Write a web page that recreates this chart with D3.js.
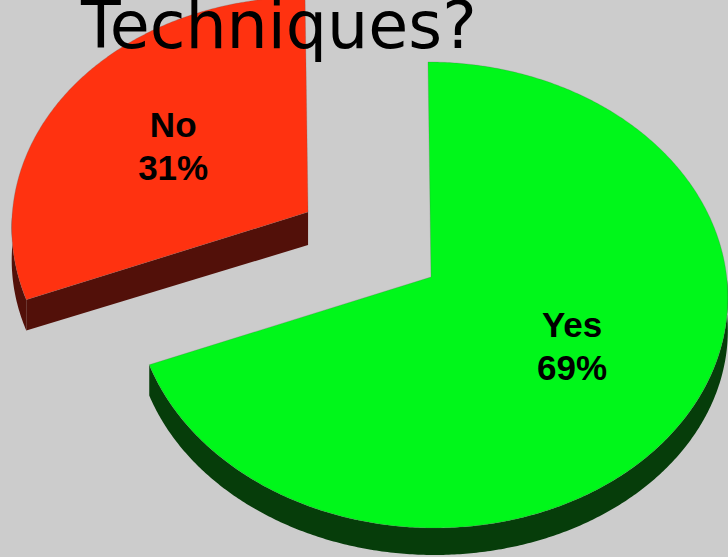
<!DOCTYPE html>
<html>
<head>
<meta charset="utf-8">
<script src="https://cdn.jsdelivr.net/npm/d3@7"></script>
<style>
  html, body { margin: 0; padding: 0; background: #cccccc; }
  svg { display: block; }
</style>
</head>
<body>
<svg id="chart" width="728" height="557"></svg>
<script>
// Survey answers
const categories = ["Yes", "No"];
const values = [69, 31];
const titleText = "Techniques?";

// Slice styling
const topColors = ["#00f71a", "#ff3210"];
const sideColors = ["#063d0a", "#521009"];
const explodeBy = [0, 0.51];

const W = 728, H = 557;
const svg = d3.select("#chart");

svg.append("rect").attr("width", W).attr("height", H).attr("fill", "#cccccc");

// Tilted disc projection: v = across, u = depth (-1 back, +1 front)
const cx = 431, cy = 277, Sx = 295.7, Sy = 231.6, persp = 0.0772, shear = 0.014;
function proj(v, u) {
  const w = 1 / (1 - persp * u);
  const yr = Sy * u * w;
  return [cx + Sx * v * w + shear * yr, cy + yr];
}
const thick = u => 33 - 6 * u;

const pie = d3.pie().sort(null).value(d => d)(values);

const slices = pie.map((p, i) => {
  const mid = (p.startAngle + p.endAngle) / 2;
  const e = explodeBy[i];
  const o = proj(e * Math.sin(mid), -e * Math.cos(mid));
  return { ...p, i, mid, dx: o[0] - cx, dy: o[1] - cy };
});

// back slices first
slices.sort((a, b) => (-Math.cos(a.mid) * explodeBy[a.i]) - (-Math.cos(b.mid) * explodeBy[b.i]));

function rimPoint(s, t, down) {
  const u = -Math.cos(t), v = Math.sin(t);
  const p = proj(v, u);
  return [p[0] + s.dx, p[1] + s.dy + (down ? thick(u) : 0)];
}
function apex(s, down) {
  return [cx + s.dx, cy + s.dy + (down ? thick(0) : 0)];
}
function arcPts(s, a0, a1, down) {
  const n = Math.max(2, Math.ceil(Math.abs(a1 - a0) / (Math.PI / 360)));
  return d3.range(n + 1).map(k => rimPoint(s, a0 + (a1 - a0) * k / n, down));
}
const line = d3.line().curve(d3.curveLinear);

const g = svg.append("g");

slices.forEach(s => {
  const a0 = s.startAngle, a1 = s.endAngle;
  const side = sideColors[s.i];

  // radial cut faces that turn towards the viewer
  if (Math.sin(a0) < -1e-6) {
    const pts = [apex(s, false), rimPoint(s, a0, false), rimPoint(s, a0, true), apex(s, true)];
    g.append("path").attr("d", line(pts) + "Z").attr("fill", side);
  }
  if (Math.sin(a1) > 1e-6) {
    const pts = [apex(s, false), rimPoint(s, a1, false), rimPoint(s, a1, true), apex(s, true)];
    g.append("path").attr("d", line(pts) + "Z").attr("fill", side);
  }

  // outer wall on the front half
  const r0 = Math.max(a0, Math.PI / 2), r1 = Math.min(a1, 3 * Math.PI / 2);
  if (r1 > r0) {
    const pts = arcPts(s, r0, r1, false).concat(arcPts(s, r0, r1, true).reverse());
    g.append("path").attr("d", line(pts) + "Z").attr("fill", side);
  }

  // top face
  const topPts = [apex(s, false)].concat(arcPts(s, a0, a1, false));
  g.append("path")
    .attr("d", line(topPts) + "Z")
    .attr("fill", topColors[s.i])
    .attr("stroke", "#5a5a5a")
    .attr("stroke-opacity", 0.3)
    .attr("stroke-width", 0.8)
    .attr("stroke-linejoin", "round");
});

// value labels
slices.forEach(s => {
  const p = proj(0.56 * Math.sin(s.mid), -0.52 * Math.cos(s.mid));
  const x = p[0] + s.dx, y = p[1] + s.dy;
  const t = g.append("text")
    .attr("text-anchor", "middle")
    .attr("font-family", "'Liberation Sans', Arial, sans-serif")
    .attr("font-weight", "bold")
    .attr("font-size", 35)
    .attr("fill", "#000");
  t.append("tspan").attr("x", x).attr("y", y - 9).text(categories[s.i]);
  t.append("tspan").attr("x", x).attr("y", y + 34).text(values[s.i] + "%");
});

// title
svg.append("text")
  .attr("x", 81)
  .attr("y", 48)
  .attr("font-family", "'DejaVu Sans', Verdana, sans-serif")
  .attr("font-size", 65)
  .attr("fill", "#000")
  .text(titleText);
</script>
</body>
</html>
